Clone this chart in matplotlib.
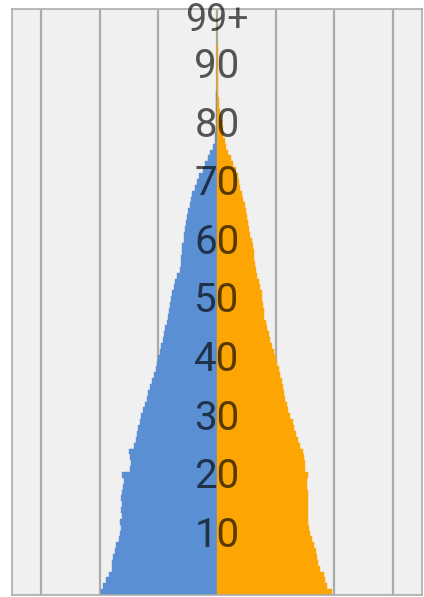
import matplotlib
matplotlib.use("Agg")
import matplotlib.pyplot as plt
import numpy as np

ages = list(range(100))
male = [1.98, 1.94, 1.89, 1.84, 1.80, 1.79, 1.78, 1.75, 1.73, 1.68,
        1.65, 1.64, 1.65, 1.63, 1.64, 1.63, 1.64, 1.62, 1.60, 1.58,
        1.62, 1.49, 1.47, 1.48, 1.50, 1.42, 1.38, 1.37, 1.35, 1.32,
        1.29, 1.27, 1.23, 1.19, 1.17, 1.14, 1.11, 1.08, 1.05, 1.02,
        1.00, 0.97, 0.95, 0.93, 0.91, 0.88, 0.86, 0.83, 0.82, 0.80,
        0.78, 0.76, 0.74, 0.71, 0.68, 0.64, 0.62, 0.61, 0.60, 0.59,
        0.57, 0.56, 0.54, 0.53, 0.51, 0.49, 0.46, 0.44, 0.42, 0.38,
        0.35, 0.30, 0.24, 0.20, 0.16, 0.12, 0.07, 0.04, 0.03, 0.02,
        0.02, 0.015, 0.012, 0.011, 0.010, 0.009, 0.008, 0.008, 0.007, 0.007,
        0.006, 0.006, 0.006, 0.005, 0.005, 0.005, 0.005, 0.005, 0.005, 0.005]
female = [1.96, 1.88, 1.85, 1.82, 1.76, 1.73, 1.71, 1.69, 1.66, 1.63,
          1.59, 1.57, 1.56, 1.56, 1.55, 1.56, 1.56, 1.55, 1.53, 1.54,
          1.56, 1.51, 1.50, 1.49, 1.46, 1.41, 1.38, 1.35, 1.32, 1.29,
          1.25, 1.22, 1.19, 1.16, 1.15, 1.13, 1.11, 1.08, 1.05, 1.02,
          1.00, 0.97, 0.94, 0.91, 0.88, 0.86, 0.83, 0.81, 0.80, 0.79,
          0.77, 0.76, 0.74, 0.72, 0.69, 0.66, 0.65, 0.64, 0.63, 0.61,
          0.59, 0.57, 0.55, 0.53, 0.51, 0.49, 0.47, 0.45, 0.43, 0.40,
          0.37, 0.35, 0.32, 0.28, 0.24, 0.19, 0.15, 0.13, 0.11, 0.10,
          0.08, 0.07, 0.05, 0.04, 0.03, 0.025, 0.02, 0.018, 0.015, 0.013,
          0.012, 0.011, 0.010, 0.009, 0.008, 0.007, 0.006, 0.006, 0.005, 0.005]
label_ages = [10, 20, 30, 40, 50, 60, 70, 80, 90]
label_texts = ["10", "20", "30", "40", "50", "60", "70", "80", "90"]
top_label = "99+"

blue = "#5B8FD3"
orange = "#FDA503"

fig = plt.figure(figsize=(4.24, 5.97), dpi=100)
ax = fig.add_axes([12/424, 2/597, 410/424, 586/597])
ax.set_facecolor("#F0F0F0")

ax.barh(ages, [-m for m in male], height=1.0, color=blue, edgecolor=blue, linewidth=0.3, zorder=2)
ax.barh(ages, female, height=1.0, color=orange, edgecolor=orange, linewidth=0.3, zorder=2)

ax.set_xlim(-3.5, 3.5)
ax.set_ylim(-0.5, 99.5)
ax.set_xticks([-3, -2, -1, 0, 1, 2, 3])
ax.set_yticks([])
ax.xaxis.grid(True, color="#ABABAB", linewidth=1.6, zorder=1)
ax.set_axisbelow(True)
ax.tick_params(axis="x", length=0, labelbottom=False)
for s in ax.spines.values():
    s.set_color("#ABABAB")
    s.set_linewidth(1.2)

for a, t in zip(label_ages, label_texts):
    ax.text(0, a - 0.3, t, ha="center", va="center", fontsize=29,
            family=["Roboto", "DejaVu Sans"], fontweight="normal",
            color="black", alpha=0.65, zorder=3)
ax.text(0, 97.6, top_label, ha="center", va="center", fontsize=27,
        family=["Roboto", "DejaVu Sans"], fontweight="normal",
        color="black", alpha=0.65, zorder=3, clip_on=False)

fig.savefig("out.png", dpi=100)
